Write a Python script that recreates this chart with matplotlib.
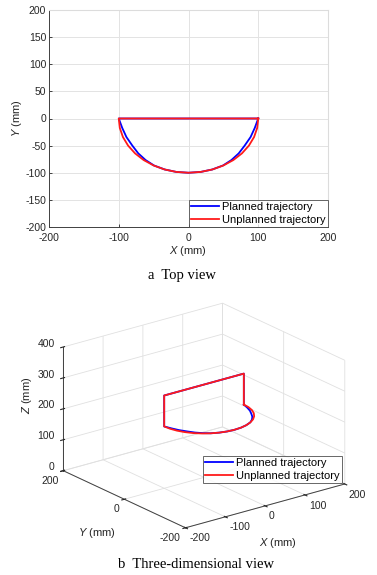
import numpy as np
import matplotlib
matplotlib.use("Agg")
import matplotlib.pyplot as plt
from mpl_toolkits.mplot3d import Axes3D  # noqa

plt.rcParams['font.family'] = ['Liberation Sans', 'DejaVu Sans']
plt.rcParams['mathtext.fontset'] = 'custom'
plt.rcParams['mathtext.it'] = 'Liberation Sans:italic'
plt.rcParams['mathtext.rm'] = 'Liberation Sans'
plt.rcParams['axes.unicode_minus'] = False

# ---- data (mm) ----
# arc part of the planned trajectory (blue), read from the top view
planned_arc_x = [100, 95, 89, 80.5, 72, 61.5, 49.5, 34, 17.4, 0,
                 -17.4, -34, -49.5, -61.5, -72, -80.5, -89, -95, -100]
planned_arc_y = [0, -17.4, -34.2, -50, -64.3, -76.6, -86.6, -94, -98.5, -100,
                 -98.5, -94, -86.6, -76.6, -64.3, -50, -34.2, -17.4, 0]
# arc part of the unplanned trajectory (red)
unplanned_arc_x = [100, 98.5, 94, 86.6, 76.6, 64.3, 50, 34.2, 17.4, 0,
                   -17.4, -34.2, -50, -64.3, -76.6, -86.6, -94, -98.5, -100]
unplanned_arc_y = [0, -17.4, -34.2, -50, -64.3, -76.6, -86.6, -94, -98.5, -100,
                   -98.5, -94, -86.6, -76.6, -64.3, -50, -34.2, -17.4, 0]
# closing straight segments (left vertical, top line, right vertical)
close_x = [-100, -100, 100, 100]
close_y = [0, 0, 0, 0]
close_z = [200, 300, 300, 200]
arc_z = 200

xy_ticks = [-200, -150, -100, -50, 0, 50, 100, 150, 200]
x_ticks_top = [-200, -100, 0, 100, 200]
x_ticks_3d = [-200, -100, 0, 100, 200]
y_ticks_3d = [-200, 0, 200]
z_ticks_3d = [0, 100, 200, 300, 400]

BLUE = '#0000ff'
RED = '#ff1a1a'
LW = 1.3
TICK_FS = 7.5
TXT = '#262626'

def path(ax_x, ax_y):
    return list(ax_x) + close_x, list(ax_y) + close_y

W, H = 377, 575
fig = plt.figure(figsize=(W / 100, H / 100), dpi=100)

# ---------- top view ----------
ax = fig.add_axes([49 / W, 1 - 227 / H, (328 - 49) / W, (227 - 10) / H])
px, py = path(planned_arc_x, planned_arc_y)
ux, uy = path(unplanned_arc_x, unplanned_arc_y)
ax.plot(px, py, color=BLUE, lw=LW, label='Planned trajectory')
ax.plot(ux, uy, color=RED, lw=LW, label='Unplanned trajectory')
ax.set_xlim(-200, 200)
ax.set_ylim(-200, 200)
ax.set_xticks(x_ticks_top)
ax.set_yticks(xy_ticks)
ax.grid(True, color='#e3e3e3', lw=0.7)
ax.set_axisbelow(True)
for s in ['top', 'right']:
    ax.spines[s].set_color('#dcdcdc')
for s in ['left', 'bottom']:
    ax.spines[s].set_color('#404040')
    ax.spines[s].set_linewidth(0.7)
ax.tick_params(direction='in', length=2.5, width=0.6, labelsize=TICK_FS,
               colors=TXT, pad=2)
ax.tick_params(axis='x', pad=4)
ax.set_xlabel(r'$\it{X}$ (mm)', fontsize=8, color=TXT, labelpad=1)
ax.set_ylabel(r'$\it{Y}$ (mm)', fontsize=8, color=TXT, labelpad=1)
leg = ax.legend(loc='lower right', fontsize=8, frameon=True, fancybox=False,
                borderpad=0.2, handlelength=2.5, handletextpad=0.3,
                labelspacing=0.25, borderaxespad=0.0)
leg.get_frame().set_edgecolor('#404040')
leg.get_frame().set_linewidth(0.7)
fig.text(182 / W, 1 - 276 / H, 'a  Top view', ha='center', va='center',
         fontsize=10.5, family='Liberation Serif')

# ---------- 3D view ----------
ax3 = fig.add_axes([12 / W, 1 - 549 / H, 1.0, 260 / H], projection='3d')
ax3.set_proj_type('ortho')
ax3.view_init(elev=21, azim=-127.5)
ax3.set_box_aspect((1, 1, 0.66), zoom=1.17)
p3z = [arc_z] * len(planned_arc_x) + close_z
u3z = [arc_z] * len(unplanned_arc_x) + close_z
ax3.plot(px, py, p3z, color=BLUE, lw=LW, label='Planned trajectory')
ax3.plot(ux, uy, u3z, color=RED, lw=LW, label='Unplanned trajectory')
ax3.set_xlim(-200, 200)
ax3.set_ylim(-200, 200)
ax3.set_zlim(0, 400)
ax3.set_xticks(x_ticks_3d)
ax3.set_yticks(y_ticks_3d)
ax3.set_zticks(z_ticks_3d)
for a in (ax3.xaxis, ax3.yaxis, ax3.zaxis):
    a.set_pane_color((1, 1, 1, 0))
    a.pane.set_edgecolor('#d0d0d0')
    a._axinfo['grid']['color'] = '#e0e0e0'
    a._axinfo['grid']['linewidth'] = 0.6
    a.line.set_color('#404040')
    a.line.set_linewidth(0.7)
ax3.tick_params(labelsize=TICK_FS, colors=TXT, pad=0)
ax3.tick_params(axis='x', pad=-5)
ax3.tick_params(axis='y', pad=-5)
ax3.tick_params(axis='z', pad=-5)
for t in ax3.zaxis.get_ticklabels():
    t.set_ha('right')
    t.set_va('baseline')
for t in ax3.yaxis.get_ticklabels():
    t.set_ha('right')
for t in ax3.xaxis.get_ticklabels():
    t.set_ha('left')
# axis titles placed as in the reference (horizontal X / Y, vertical Z)
fig.text(278 / W, 1 - 543 / H, r'$\it{X}$ (mm)', ha='center', va='center',
         fontsize=8, color=TXT)
fig.text(97 / W, 1 - 533 / H, r'$\it{Y}$ (mm)', ha='center', va='center',
         fontsize=8, color=TXT)
fig.text(27 / W, 1 - 395 / H, r'$\it{Z}$ (mm)', ha='center', va='center',
         fontsize=8, color=TXT, rotation=90)
leg3 = ax3.legend(loc='lower right', bbox_to_anchor=(342 / W, 1 - 483 / H),
                  bbox_transform=fig.transFigure, fontsize=8, frameon=True,
                  fancybox=False, borderpad=0.2, handlelength=2.5,
                  handletextpad=0.3, labelspacing=0.25, borderaxespad=0.0)
leg3.get_frame().set_edgecolor('#404040')
leg3.get_frame().set_linewidth(0.7)
fig.text(196 / W, 1 - 565 / H, 'b  Three-dimensional view', ha='center',
         va='center', fontsize=10.5, family='Liberation Serif')

fig.savefig('out.png', dpi=100)
